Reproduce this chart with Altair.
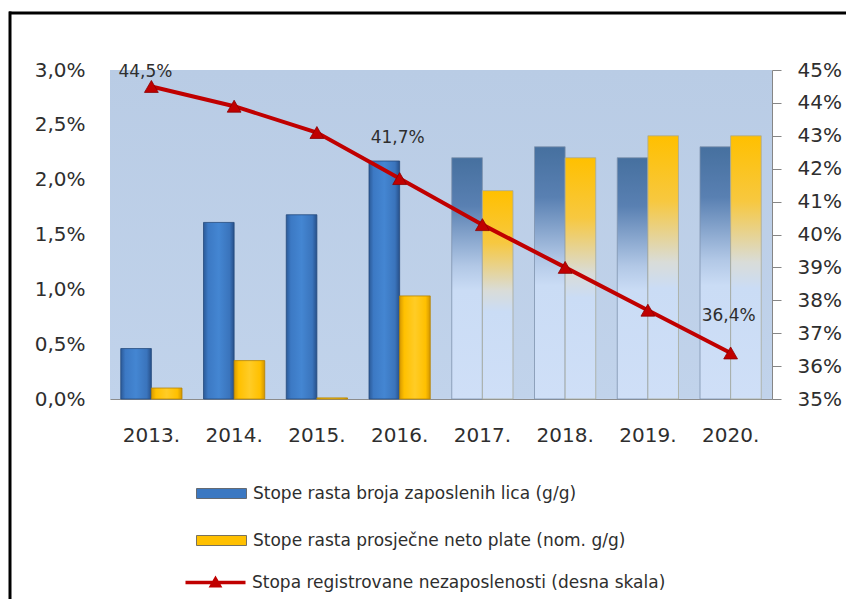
import altair as alt
import pandas as pd

# ---- data ----
years = ["2013.", "2014.", "2015.", "2016.", "2017.", "2018.", "2019.", "2020."]
period = ["actual", "actual", "actual", "actual", "forecast", "forecast", "forecast", "forecast"]
employment_growth = [0.46, 1.61, 1.68, 2.17, 2.20, 2.30, 2.20, 2.30]
wage_growth = [0.10, 0.35, 0.01, 0.94, 1.90, 2.20, 2.40, 2.40]
unemployment_rate = [44.5, 43.9, 43.1, 41.7, 40.3, 39.0, 37.7, 36.4]

s_emp = "Stope rasta broja zaposlenih lica (g/g)"
s_wage = "Stope rasta prosječne neto plate (nom. g/g)"
s_unemp = "Stopa registrovane nezaposlenosti (desna skala)"
bar_series = [s_emp, s_wage]

rows = []
for i, y in enumerate(years):
    rows.append({"year": y, "series": s_emp, "value": employment_growth[i], "period": period[i]})
    rows.append({"year": y, "series": s_wage, "value": wage_growth[i], "period": period[i]})
df_bars = pd.DataFrame(rows)
df_line = pd.DataFrame({"year": years, "u": unemployment_rate, "lname": [s_unemp] * len(years)})

FONT = "DejaVu Sans"
TXT = "#2e2e2e"
RED = "#c00000"
W, H = 662, 329

def grad(stops, horizontal=True):
    return {"gradient": "linear", "x1": 0, "y1": 0, "x2": 1 if horizontal else 0, "y2": 0 if horizontal else 1,
            "stops": [{"offset": o, "color": c} for o, c in stops]}

blue_actual = grad([(0, "#2b5a98"), (0.15, "#3c79c4"), (0.5, "#4486d2"), (0.85, "#3a74bc"), (1, "#27508a")])
yellow_actual = grad([(0, "#d99b00"), (0.15, "#ffc000"), (0.5, "#ffcc26"), (0.85, "#ffc000"), (1, "#d39600")])
blue_fc = grad([(0, "#46709f"), (0.2, "#5980b2"), (0.45, "#b2c8e6"), (0.55, "#cadcf5"), (1, "#cfdff7")], horizontal=False)
yellow_fc = grad([(0, "#ffc000"), (0.25, "#f7c840"), (0.48, "#d9dcd8"), (0.58, "#cadcf5"), (1, "#cfdff7")], horizontal=False)
plot_bg = grad([(0, "#b9cce5"), (1, "#c1d3eb")], horizontal=False)

x_enc = alt.X("year:N", sort=years,
              scale=alt.Scale(domain=years, paddingInner=0.26, paddingOuter=0.13),
              axis=alt.Axis(title=None, labelAngle=0, ticks=False, domain=True, domainColor="#8c8c8c",
                            labelFont=FONT, labelFontSize=20, labelColor=TXT, labelPadding=26, grid=False))
xo_enc = alt.XOffset("series:N", sort=bar_series,
                     scale=alt.Scale(domain=bar_series, paddingInner=0, paddingOuter=0))
y_left = alt.Y("value:Q", scale=alt.Scale(domain=[0, 3], nice=False),
               axis=alt.Axis(title=None, orient="left", domain=False, ticks=False, grid=False,
                             values=[0, 0.5, 1, 1.5, 2, 2.5, 3],
                             labelExpr="replace(format(datum.value, '.1f'), '.', ',') + '%'",
                             labelFont=FONT, labelFontSize=20, labelColor=TXT, labelPadding=25))

frame_data = alt.Data(values=[{"k": 1}])
background = alt.Chart(frame_data).mark_rect(fill=plot_bg).encode(
    x=alt.value(0), x2=alt.value(W), y=alt.value(0), y2=alt.value(H))

base = alt.Chart(df_bars).encode(x=x_enc, xOffset=xo_enc, y=y_left)

def bar_layer(series, per, fill, stroke):
    return base.transform_filter(
        (alt.datum.series == series) & (alt.datum.period == per)
    ).mark_bar(fill=fill, stroke=stroke, strokeWidth=0.8)

b1 = bar_layer(s_emp, "actual", blue_actual, "#244a7c")
b2 = bar_layer(s_wage, "actual", yellow_actual, "#b58300")
b3 = bar_layer(s_emp, "forecast", blue_fc, "#7f93ad")
b4 = bar_layer(s_wage, "forecast", yellow_fc, "#a7a99a")

bar_legend = alt.Chart(df_bars).transform_filter("false").mark_square(filled=True).encode(
    x=x_enc, y=y_left,
    fill=alt.Fill("series:N", scale=alt.Scale(domain=bar_series, range=["#3b78c2", "#ffc000"]),
                  legend=alt.Legend(orient="none", legendX=86, legendY=398, title=None,
                                    symbolType="M-1,-0.2H1V0.2H-1Z", symbolSize=2500,
                                    symbolStrokeColor="#555555", symbolStrokeWidth=0.8, symbolOpacity=1,
                                    labelFont=FONT, labelFontSize=17, labelColor=TXT,
                                    labelOffset=6, rowPadding=13, padding=0, labelLimit=700))
)

bars = alt.layer(b1, b2, b3, b4, bar_legend)

y_right = alt.Y("u:Q", scale=alt.Scale(domain=[35, 45], nice=False),
                axis=alt.Axis(title=None, orient="right", domain=True, domainColor="#868686",
                              ticks=True, tickColor="#868686", tickSize=9, grid=False,
                              values=list(range(35, 46)),
                              labelExpr="format(datum.value, '.0f') + '%'",
                              labelFont=FONT, labelFontSize=20, labelColor=TXT, labelPadding=16))

lbase = alt.Chart(df_line).encode(x=alt.X("year:N", sort=years), y=y_right)
line = lbase.mark_line(color=RED, strokeWidth=4)
pts = lbase.mark_point(shape="triangle-up", filled=True, fill=RED, stroke="#8a0000",
                       strokeWidth=0.8, size=190, opacity=1)

lab = lbase.transform_calculate(lbl="replace(format(datum.u, '.1f'), '.', ',') + '%'")
def label_layer(yr, dx, dy):
    return lab.transform_filter(alt.datum.year == yr).mark_text(
        dx=dx, dy=dy, font=FONT, fontSize=17, color=TXT).encode(text="lbl:N")

t1 = label_layer("2013.", -6, -14)
t2 = label_layer("2016.", -2, -41)
t3 = label_layer("2020.", -2, -37)

line_legend = alt.Chart(df_line).transform_filter("false").mark_point(filled=True, color=RED).encode(
    x=alt.X("year:N", sort=years), y=y_right,
    shape=alt.Shape("lname:N",
                    scale=alt.Scale(domain=[s_unemp],
                                    range=["M-1,-0.06H1V0.06H-1Z M-0.23,0.17L0,-0.23L0.23,0.17Z"]),
                    legend=alt.Legend(orient="none", legendX=75, legendY=482, title=None,
                                      symbolSize=3600, symbolFillColor=RED, symbolStrokeColor=RED,
                                      symbolStrokeWidth=0.5, symbolOpacity=1,
                                      labelFont=FONT, labelFontSize=17, labelColor=TXT,
                                      labelOffset=6, padding=0, labelLimit=700))
)

lines = alt.layer(line, pts, t1, t2, t3, line_legend)

frame_top = alt.Chart(frame_data).mark_rule(color="black", strokeWidth=3).encode(
    x=alt.value(-101), x2=alt.value(760), y=alt.value(-57), y2=alt.value(-57))
frame_left = alt.Chart(frame_data).mark_rule(color="black", strokeWidth=3).encode(
    x=alt.value(-100), y=alt.value(-58.5), y2=alt.value(620))

chart = alt.layer(background, bars, lines, frame_top, frame_left).resolve_scale(
    y="independent", fill="independent", shape="independent"
).properties(
    width=W, height=H,
    autosize="none",
    padding={"left": 102, "top": 62, "right": 74, "bottom": 200},
    background="white",
).configure_view(
    strokeWidth=0,
).configure(font=FONT)

chart.save("out.html", embed_options={"renderer": "svg", "actions": False})
